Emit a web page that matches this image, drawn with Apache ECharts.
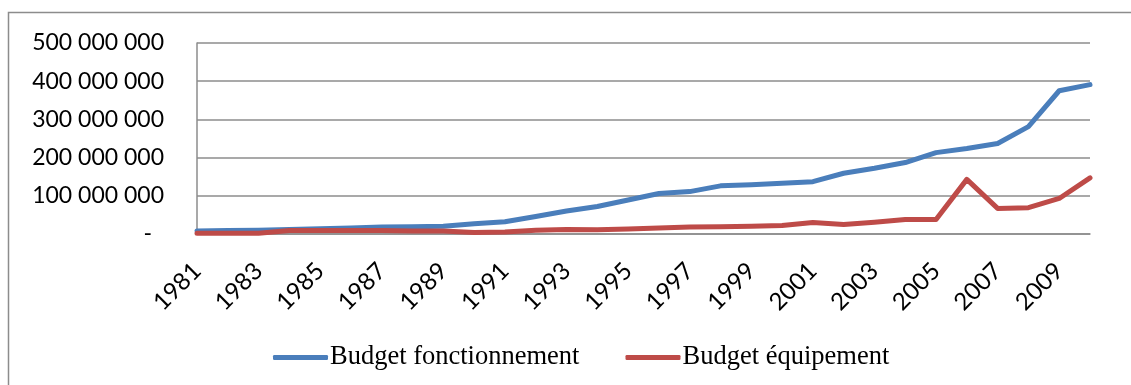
<!DOCTYPE html>
<html>
<head>
<meta charset="utf-8">
<script src="https://cdn.jsdelivr.net/npm/echarts@6/dist/echarts.min.js"></script>
<style>
  html, body { margin: 0; padding: 0; background: #fff; }
  #chart { width: 1131px; height: 385px; }
</style>
</head>
<body>
<div id="chart"></div>
<script>
// Years on the category axis
const years = ['1981','1982','1983','1984','1985','1986','1987','1988','1989','1990',
               '1991','1992','1993','1994','1995','1996','1997','1998','1999','2000',
               '2001','2002','2003','2004','2005','2006','2007','2008','2009','2010'];

// Operating budget per year
const budgetFonctionnement = [
  8000000, 9000000, 10000000, 12000000, 14000000, 16000000, 18000000, 19000000, 20000000, 27000000,
  32000000, 46000000, 60000000, 72000000, 89000000, 106000000, 111000000, 126000000, 129000000, 133000000,
  137000000, 159000000, 172000000, 187000000, 213000000, 224000000, 237000000, 281000000, 375000000, 391000000
];

// Capital (equipment) budget per year
const budgetEquipement = [
  2000000, 2000000, 2000000, 9000000, 9000000, 9000000, 9000000, 8000000, 8000000, 4000000,
  5000000, 10000000, 12000000, 11000000, 13000000, 16000000, 18000000, 19000000, 20000000, 22000000,
  30000000, 25000000, 31000000, 38000000, 38000000, 143000000, 67000000, 69000000, 93000000, 147000000
];

// Value axis ticks
const yTicks = [0, 100000000, 200000000, 300000000, 400000000, 500000000];

const seriesNames = ['Budget fonctionnement', 'Budget équipement'];
const seriesColors = ['#4A7EBB', '#BE4B48'];

function formatSpaced(v) {
  if (v === 0) return '{z|-}';
  return String(Math.round(v)).replace(/\B(?=(\d{3})+(?!\d))/g, ' ');
}

const chart = echarts.init(document.getElementById('chart'), null, { renderer: 'canvas' });

chart.setOption({
  animation: false,
  backgroundColor: '#ffffff',
  graphic: [{
    type: 'rect',
    shape: { x: 8.5, y: 12.5, width: 1130, height: 400 },
    style: { fill: 'none', stroke: '#8c8c8c', lineWidth: 1.5 },
    silent: true
  }],
  grid: { left: 197, right: 41, top: 43, bottom: 151, containLabel: false },
  legend: {
    left: 268,
    top: 339,
    itemWidth: 55,
    itemHeight: 5,
    itemGap: 46,
    icon: 'roundRect',
    textStyle: { fontFamily: 'Liberation Serif', fontSize: 26.5, color: '#000', padding: [0, 0, 0, -3] },
    data: seriesNames
  },
  xAxis: {
    type: 'category',
    data: years,
    boundaryGap: false,
    axisLine: { lineStyle: { color: '#8c8c8c', width: 1.5 } },
    axisTick: { show: false },
    axisLabel: {
      interval: 1,
      rotate: 45,
      margin: 33,
      fontFamily: 'Lato',
      fontSize: 24,
      color: '#000'
    },
    splitLine: { show: false }
  },
  yAxis: {
    type: 'value',
    min: yTicks[0],
    max: yTicks[yTicks.length - 1],
    interval: yTicks[1] - yTicks[0],
    axisLine: { show: true, lineStyle: { color: '#8c8c8c', width: 1.5 } },
    axisTick: { show: false },
    axisLabel: {
      margin: 33,
      fontFamily: 'Lato',
      fontSize: 23,
      color: '#000',
      formatter: formatSpaced,
      rich: { z: { fontFamily: 'Lato', fontSize: 23, color: '#000', padding: [0, 12, 0, 0] } }
    },
    splitLine: { lineStyle: { color: '#8c8c8c', width: 1.5 } }
  },
  series: [
    {
      name: seriesNames[0],
      type: 'line',
      data: budgetFonctionnement,
      showSymbol: false,
      symbol: 'none',
      color: seriesColors[0],
      lineStyle: { width: 5, cap: 'round', join: 'round' }
    },
    {
      name: seriesNames[1],
      type: 'line',
      data: budgetEquipement,
      showSymbol: false,
      symbol: 'none',
      color: seriesColors[1],
      lineStyle: { width: 5, cap: 'round', join: 'round' }
    }
  ]
});
</script>
</body>
</html>
